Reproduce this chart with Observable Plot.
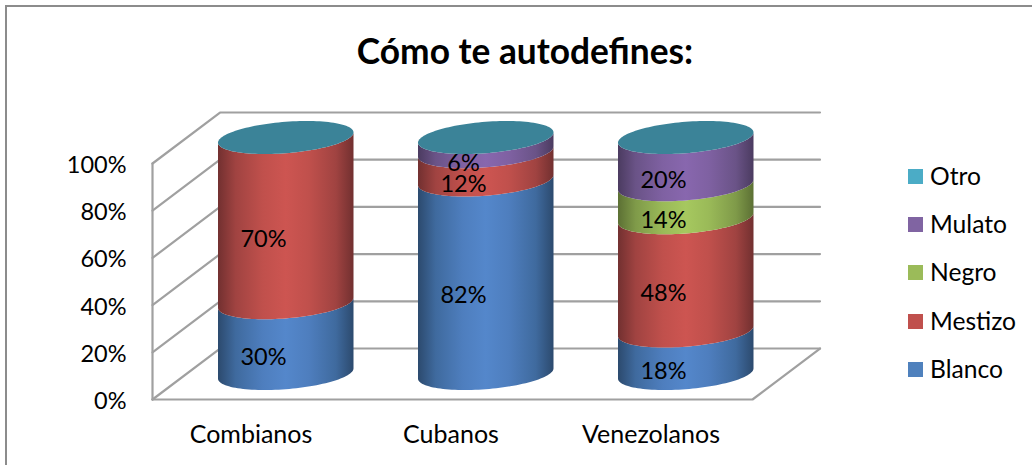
<!DOCTYPE html>
<html lang="es">
<head>
<meta charset="utf-8">
<script src="https://cdn.jsdelivr.net/npm/d3@7"></script>
<script src="https://cdn.jsdelivr.net/npm/@observablehq/plot@0.6"></script>
<style>
  html, body { margin: 0; padding: 0; background: #fff; overflow: hidden; }
  #chart { position: relative; width: 1032px; height: 465px; font-family: Lato, sans-serif; color: #000; }
  #frame { position: absolute; left: 5px; top: 5px; right: 0; bottom: 0; border-left: 2px solid #8c8c8c; border-top: 2px solid #8c8c8c; pointer-events: none; }
  h2 { margin: 0; height: 82px; box-sizing: border-box; padding-top: 31px; padding-left: 18px; text-align: center; font-size: 35.3px; line-height: 40px; font-weight: 700; }
  svg { display: block; }
  #legend { position: absolute; left: 908px; top: 151px; font-size: 24.6px; }
  #legend div { height: 48.4px; display: flex; align-items: center; }
  #legend i { display: block; width: 15px; height: 15px; margin-right: 7px; position: relative; top: 1px; }
</style>
</head>
<body>
<div id="chart"><div id="frame"></div></div>
<script>
const title = "Cómo te autodefines:";
const categories = ["Combianos", "Cubanos", "Venezolanos"];
const seriesNames = ["Blanco", "Mestizo", "Negro", "Mulato", "Otro"];
const blanco = [30, 82, 18];
const mestizo = [70, 12, 48];
const negro = [0, 0, 14];
const mulato = [0, 6, 20];
const otro = [0, 0, 0];
const seriesValues = [blanco, mestizo, negro, mulato, otro];
const ticks = [0, 20, 40, 60, 80, 100];

const legendColors = ["#4F81BD", "#C0504D", "#9BBB59", "#8064A2", "#4BACC6"];
const edgeColors = ["#2c4a6e", "#723030", "#5c7034", "#4b3b60", "#2a6475"];
const midColors = ["#3f6a9e", "#a04341", "#7f9a49", "#6a5387", "#3b8398"];
const brightColors = ["#5487cb", "#cd5551", "#a6c85f", "#8867ae", "#3b8398"];

// Oblique projection of the 3-D box, in scale units
const depthX = 0.3375;   // category units
const depthY = 21.6;     // percent units
const radiusX = 0.33875; // cylinder half width
const tiltY = 2.18;      // ellipse shear
const radiusY = 6.65;    // ellipse half height
const steps = d3.range(0, 61).map((i) => (i / 60) * Math.PI);

const centre = (i) => i + 0.5 + depthX / 2;
const level = (v) => v + depthY / 2;
const ellipseX = (i, t) => centre(i) + radiusX * Math.cos(t);
const front = (v, t) => level(v) + tiltY * Math.cos(t) - radiusY * Math.sin(t);
const back = (v, t) => level(v) + tiltY * Math.cos(t) + radiusY * Math.sin(t);

const segments = categories.flatMap((category, i) => {
  let base = 0;
  return seriesNames.map((name, s) => {
    const value = seriesValues[s][i];
    const seg = { category, i, s, name, value, y0: base, y1: base + value };
    base += value;
    return seg;
  });
}).filter((d) => d.value > 0);

const sideMarks = segments.map((d) =>
  Plot.area(steps.map((t) => ({ x: ellipseX(d.i, t), y1: front(d.y0, t), y2: front(d.y1, t) })), {
    x1: "x", y1: "y1", y2: "y2", fill: `url(#grad${d.s})`
  })
);
const capMarks = categories.map((c, i) =>
  Plot.area(steps.map((t) => ({ x: ellipseX(i, t), y1: front(100, t), y2: back(100, t) })), {
    x1: "x", y1: "y1", y2: "y2", fill: midColors[4]
  })
);

const gridStroke = { stroke: "#a0a0a0", strokeWidth: 2.2 };
const nCat = categories.length;
const wallLines = ticks.map((v) =>
  Plot.line([{ x: 0, y: v }, { x: depthX, y: v + depthY }, { x: nCat + depthX, y: v + depthY }], { x: "x", y: "y", ...gridStroke })
);
const boxLines = [
  Plot.line([{ x: 0, y: 0 }, { x: 0, y: 100 }], { x: "x", y: "y", ...gridStroke }),
  Plot.line([{ x: 0, y: 0 }, { x: nCat, y: 0 }, { x: nCat + depthX, y: depthY }], { x: "x", y: "y", ...gridStroke })
];

const gradients = () => {
  const defs = d3.create("svg:defs");
  seriesNames.forEach((n, s) => {
    const g = defs.append("linearGradient").attr("id", `grad${s}`).attr("x1", 0).attr("x2", 1).attr("y1", 0).attr("y2", 0);
    [[0, edgeColors[s]], [0.13, midColors[s]], [0.33, d3.interpolateRgb(midColors[s], brightColors[s])(0.7)],
     [0.5, brightColors[s]], [0.67, d3.interpolateRgb(midColors[s], brightColors[s])(0.7)], [0.87, midColors[s]], [1, edgeColors[s]]]
      .forEach(([o, c]) => g.append("stop").attr("offset", o).attr("stop-color", c));
  });
  return defs.node();
};

const labels = segments.map((d) => ({
  x: d.i + 0.5 + 0.055,
  y: level((d.y0 + d.y1) / 2) - radiusY - 0.8,
  text: `${d.value}%`
}));

const plot = Plot.plot({
  width: 1032,
  height: 383,
  marginLeft: 152,
  marginRight: 280,
  marginTop: 81,
  marginBottom: 66,
  style: { fontFamily: "Lato, sans-serif", fontSize: "23.5px", background: "transparent", color: "#000" },
  x: { type: "linear", domain: [0, nCat], axis: null },
  y: { domain: [0, 100], axis: null },
  marks: [
    gradients,
    ...wallLines,
    ...boxLines,
    ...sideMarks,
    ...capMarks,
    Plot.axisY({ ticks, tickSize: 0, tickPadding: 26, tickFormat: (d) => `${d}%`, fontSize: 23.5, dy: 2, label: null }),
    Plot.axisX({ ticks: categories.map((c, i) => i + 0.5), tickSize: 0, tickPadding: 26, tickFormat: (d) => categories[Math.floor(d)], fontSize: 25, dx: -1.5, dy: -0.5, label: null }),
    Plot.text(labels, { x: "x", y: "y", text: "text", fontSize: 23.5, dy: 1, fill: "#000" })
  ]
});

const root = document.getElementById("chart");
const h = document.createElement("h2");
h.textContent = title;
root.appendChild(h);
root.appendChild(plot);
const legend = document.createElement("div");
legend.id = "legend";
seriesNames.map((n, s) => [n, legendColors[s]]).reverse().forEach(([n, c]) => {
  const row = document.createElement("div");
  const sw = document.createElement("i");
  sw.style.background = c;
  row.appendChild(sw);
  row.appendChild(document.createTextNode(n));
  legend.appendChild(row);
});
root.appendChild(legend);
</script>
</body>
</html>
